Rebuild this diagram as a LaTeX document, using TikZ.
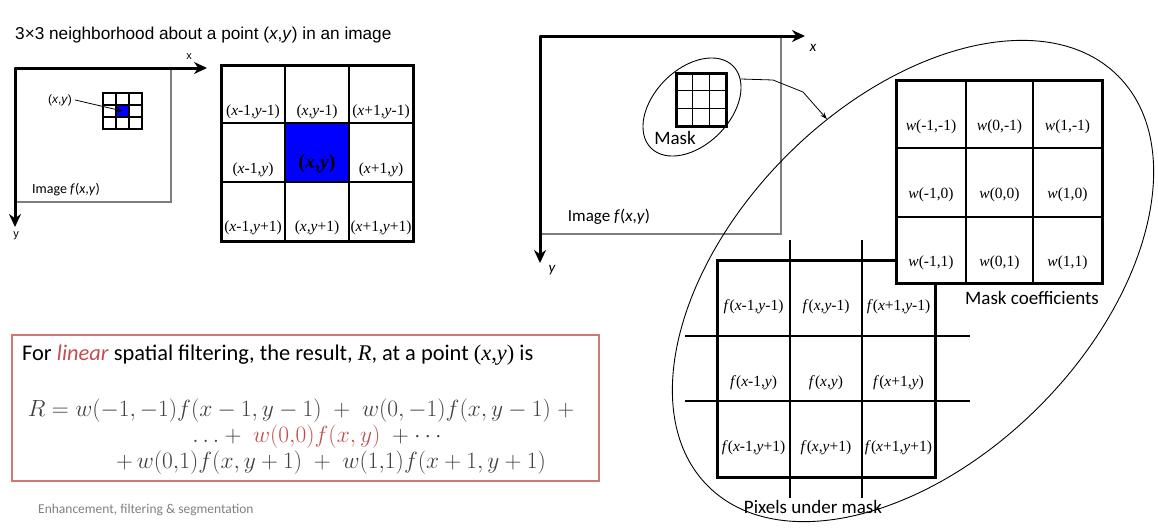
\documentclass[tikz,border=0pt]{standalone}
\usepackage[no-math]{fontspec}
\newfontfamily\arialfont{Liberation Sans}
\newfontfamily\calibrifont{Carlito}
\newfontfamily\timesfont{Liberation Serif}
\usetikzlibrary{arrows.meta,positioning,shapes.geometric}
\definecolor{maskblue}{RGB}{0,0,255}
\definecolor{eqred}{RGB}{192,80,77}
\definecolor{boxred}{RGB}{208,120,118}
\definecolor{eqgray}{RGB}{64,64,64}
\definecolor{framegray}{RGB}{125,125,125}
\definecolor{footgray}{RGB}{128,128,128}

\begin{document}
\begin{tikzpicture}[
		x=1pt, y=-1pt,
		axis/.style={line width=3pt, -{Stealth[length=13pt,width=12pt]}},
		frame/.style={draw=framegray, line width=1.2pt},
		thickframe/.style={line width=3pt},
		thinline/.style={line width=1.1pt},
		lbl/.style={font=\timesfont\fontsize{15.5}{18}\selectfont, inner sep=0pt},
		captext/.style={font=\calibrifont\fontsize{19}{22}\selectfont, inner sep=0pt},
		ring/.style={draw, ellipse, rotate=45, inner sep=0pt, line width=0.9pt},
		eqline/.style={inner sep=0pt, text=eqgray, font=\fontsize{20.74}{24}\selectfont, scale=1.13},
	]
		\useasboundingbox (0,0) rectangle (1158,531);
		
		% left: neighbourhood in an image
		\node (title) [anchor=west, inner sep=0pt, font=\arialfont\fontsize{17.2}{20}\selectfont] at (15,35) {3×3 neighborhood about a point (\textit{x},\textit{y}) in an image};
		\draw[frame] (15,68) rectangle (171,202);
		\coordinate (o1) at (15,68);
		\coordinate (x1) at (207,68);
		\coordinate (y1) at (15,227);
		\draw[axis] (o1) -- (x1);
		\draw[axis] (o1) -- (y1);
		\node (x1lbl) [font=\arialfont\fontsize{11}{13}\selectfont, inner sep=0pt] at (189,57) {x};
		\node (y1lbl) [font=\arialfont\fontsize{11}{13}\selectfont, inner sep=0pt] at (16,236) {y};
		\node (img1) [font=\calibrifont\fontsize{14}{16}\selectfont, inner sep=0pt] at (66,190) {Image \textit{f}(\textit{x},\textit{y})};
		
		\node (pix) [fill=maskblue, minimum width=13pt, minimum height=12pt, inner sep=0pt] at (122.5,111) {};
		\draw[thinline] (116,93) -- (116,129) (129,93) -- (129,129) (103,105) -- (142,105) (103,117) -- (142,117);
		\draw[line width=2.5pt] (103,93) rectangle (142,129);
		\node (xylbl) [font=\arialfont\fontsize{12}{14}\selectfont, inner sep=3pt] at (60,100) {(\textit{x},\textit{y})};
		\draw[line width=0.8pt, -{Stealth[length=6pt,width=5pt]}] (xylbl.east) -- (pix.center);
		
		% left: 3x3 coordinates
		\fill[maskblue] (285,123) rectangle (349,182);
		\draw[thinline] (285,65) -- (285,241) (349,65) -- (349,241) (221,123) -- (413,123) (221,182) -- (413,182);
		\draw[thickframe] (221,65) rectangle (413,241);
		\foreach \px/\py/\txt [count=\k] in {
				253/112/{(\textit{x}-1,\textit{y}-1)}, 317/112/{(\textit{x},\textit{y}-1)}, 381/112/{(\textit{x}+1,\textit{y}-1)},
				253/170/{(\textit{x}-1,\textit{y})}, 381/170/{(\textit{x}+1,\textit{y})},
				253/228/{(\textit{x}-1,\textit{y}+1)}, 317/228/{(\textit{x},\textit{y}+1)}, 381/228/{(\textit{x}+1,\textit{y}+1)}}
			\node (nb\k) [lbl] at (\px,\py) {\txt};
		\node (nbc) [lbl, font=\timesfont\bfseries\fontsize{20}{22}\selectfont] at (317,164) {(\textit{x},\textit{y})};
		
		% right: mask over the image
		\draw[frame] (540,36) rectangle (781,234);
		\coordinate (o2) at (540,36);
		\coordinate (x2) at (805,36);
		\coordinate (y2) at (540,263);
		\draw[axis] (o2) -- (x2);
		\draw[axis] (o2) -- (y2);
		\node (x2lbl) [font=\calibrifont\itshape\fontsize{15}{17}\selectfont, inner sep=0pt] at (813,48) {x};
		\node (y2lbl) [font=\calibrifont\itshape\fontsize{15}{17}\selectfont, inner sep=0pt] at (552,270) {y};
		\node (img2) [captext, font=\calibrifont\fontsize{17}{20}\selectfont] at (609,217) {Image \textit{f}(\textit{x},\textit{y})};
		
		\draw[thinline] (692.7,73) -- (692.7,126) (709.3,73) -- (709.3,126) (676,90.7) -- (726,90.7) (676,108.3) -- (726,108.3);
		\draw[thickframe] (676,73) rectangle (726,126);
		\node (maskring) [ring, minimum width=116pt, minimum height=76pt] at (692,107) {};
		\node (maskcap) [captext] at (675,138) {Mask};
		
		\node (bigring) [ring, minimum width=580pt, minimum height=356pt] at (913,281) {};
		\coordinate (bend1) at (773,80);
		\coordinate (bend2) at (803,92);
		\draw[line width=0.8pt, -{Stealth[length=7pt,width=5pt]}] (maskring.-15) -- (bend1) -- (bend2) -- (bigring.73);
		
		% pixels under mask
		\draw[line width=1.8pt] (790,240) -- (790,498) (862,240) -- (862,498) (685,336) -- (970,336) (685,401) -- (970,401);
		\draw[thickframe] (717,260) rectangle (935,477);
		\foreach \px/\py/\txt [count=\k] in {
				753.5/307/{\textit{f}(\textit{x}-1,\textit{y}-1)}, 826/307/{\textit{f}(\textit{x},\textit{y}-1)}, 898.5/307/{\textit{f}(\textit{x}+1,\textit{y}-1)},
				753.5/383/{\textit{f}(\textit{x}-1,\textit{y})}, 826/383/{\textit{f}(\textit{x},\textit{y})}, 898.5/383/{\textit{f}(\textit{x}+1,\textit{y})},
				753.5/448/{\textit{f}(\textit{x}-1,\textit{y}+1)}, 826/448/{\textit{f}(\textit{x},\textit{y}+1)}, 898.5/448/{\textit{f}(\textit{x}+1,\textit{y}+1)}}
			\node (pl\k) [lbl] at (\px,\py) {\txt};
		\node (pixcap) [captext] at (813,507) {Pixels under mask};
		
		% mask coefficients
		\fill[white] (896,80) rectangle (1102,283);
		\draw[thinline] (966,80) -- (966,283) (1033,80) -- (1033,283) (896,148) -- (1102,148) (896,217) -- (1102,217);
		\draw[thickframe] (896,80) rectangle (1102,283);
		\foreach \px/\py/\txt [count=\k] in {
				931/127/{\textit{w}(-1,-1)}, 999.5/127/{\textit{w}(0,-1)}, 1067.5/127/{\textit{w}(1,-1)},
				931/195/{\textit{w}(-1,0)}, 999.5/195/{\textit{w}(0,0)}, 1067.5/195/{\textit{w}(1,0)},
				931/263/{\textit{w}(-1,1)}, 999.5/263/{\textit{w}(0,1)}, 1067.5/263/{\textit{w}(1,1)}}
			\node (wl\k) [lbl] at (\px,\py) {\txt};
		\node (coefcap) [captext] at (1032,298) {Mask coefficients};
		
		% linear filtering formula
		\draw[boxred, line width=1.2pt] (12,335) rectangle (599,481);
		\node (fortext) [anchor=west, inner sep=0pt, font=\calibrifont\fontsize{22.4}{26}\selectfont] at (22,355) {For \textcolor{eqred}{\textit{linear}} spatial filtering, the result, {\timesfont\textit{R}}, at a point {\timesfont(\textit{x},\textit{y})} is};
		\node (eq1) [eqline] at (301,411) {$R = w(-1,-1)f(x-1,y-1)\;+\;w(0,-1)f(x,y-1)\;+$};
		\node (eq2) [eqline] at (317,437) {$\ldots+\;\textcolor{eqred}{w(0{,}0)f(x,y)}\;+\cdots$};
		\node (eq3) [eqline] at (331,463) {$+\,w(0{,}1)f(x,y+1)\;+\;w(1{,}1)f(x+1,y+1)$};
		\node (foot) [anchor=west, inner sep=0pt, text=footgray, font=\calibrifont\fontsize{13.5}{16}\selectfont] at (38,510) {Enhancement, filtering \& segmentation};
	\end{tikzpicture}
\end{document}
